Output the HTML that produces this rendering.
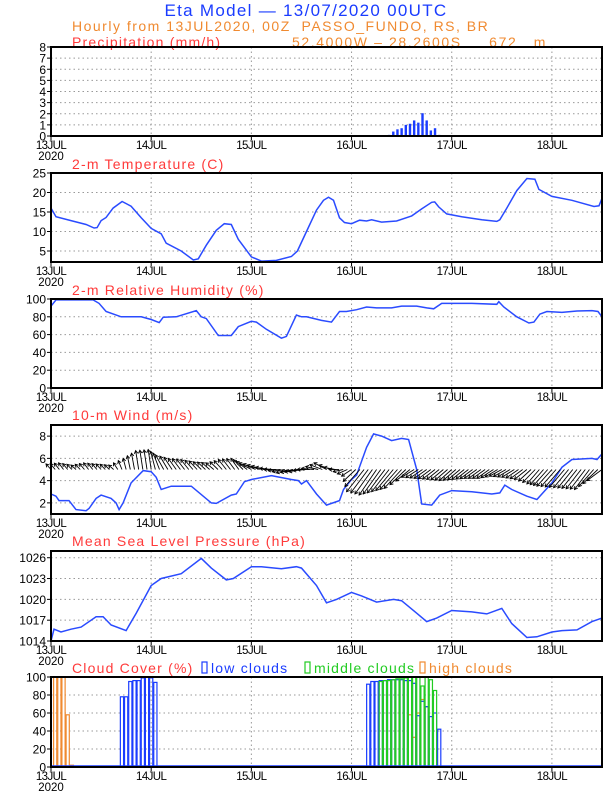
<!DOCTYPE html>
<html><head><meta charset="utf-8"><style>
html,body{margin:0;padding:0;background:#fff;}
svg{display:block;font-family:"Liberation Sans",sans-serif;}
</style></head><body>
<svg id="chart" width="612" height="792" viewBox="0 0 612 792" xmlns="http://www.w3.org/2000/svg">
<text x="306" y="16" text-anchor="middle" font-size="17" letter-spacing="1.3" fill="#1a3cff">Eta Model — 13/07/2020 00UTC</text>
<text x="72" y="31" font-size="14" letter-spacing="1.5" fill="#f08a30" xml:space="preserve">Hourly from 13JUL2020, 00Z  PASSO_FUNDO, RS, BR</text>
<text x="292" y="47" font-size="14" letter-spacing="1.6" fill="#f08a30" xml:space="preserve">52.4000W – 28.2600S     672   m</text>
</svg>
<script>
// ---------- data ----------
const dayLabels = ["13JUL","14JUL","15JUL","16JUL","17JUL","18JUL"];
const precipHours = [81,82,83,84,85,86,87,88,89,90,91,92,93];
const precipValues = [0.1,0.4,0.6,0.7,1.0,1.1,1.4,1.2,2.05,1.4,0.5,0.7,0.1];
const tempDays = [0,0.05,0.2,0.35,0.43,0.46,0.5,0.55,0.62,0.71,0.8,0.9,1.0,1.1,1.15,1.3,1.42,1.47,1.55,1.65,1.73,1.8,1.87,2.0,2.1,2.25,2.4,2.46,2.55,2.65,2.72,2.77,2.82,2.88,2.93,3.0,3.08,3.15,3.2,3.3,3.45,3.6,3.7,3.8,3.83,3.87,3.95,4.1,4.3,4.45,4.48,4.55,4.65,4.75,4.83,4.87,5.0,5.2,5.42,5.47,5.5];
const tempValues = [16,13.8,12.8,11.8,10.9,11,12.8,13.6,16,17.7,16.5,13.5,10.8,9.4,7,5,2.7,3,6.5,10.3,12,11.8,8,3.5,2.4,2.6,3.6,5,10,15.5,18,18.8,18,13.5,12.3,12,12.9,12.7,13,12.4,12.7,14,15.8,17.5,17.6,16.3,14.5,13.8,13,12.6,13,16,20.5,23.6,23.4,20.8,19,18,16.4,16.6,18.5];
const tempTicks = [5,10,15,20,25];
const rhDays = [0,0.05,0.2,0.42,0.48,0.55,0.7,0.9,1.0,1.08,1.12,1.25,1.45,1.5,1.55,1.67,1.8,1.87,2.0,2.05,2.15,2.3,2.35,2.45,2.5,2.55,2.7,2.8,2.88,2.95,3.05,3.15,3.25,3.4,3.5,3.65,3.75,3.82,3.9,4.0,4.2,4.45,4.47,4.52,4.65,4.77,4.82,4.88,4.95,5.1,5.25,5.4,5.46,5.5];
const rhValues = [92,99,99,99,95,86,80,80,77,73.5,79.5,80,87,80,78,59,59,69,75,74,66,56,58,82,80,80,76,74,86,86,88,91,90,90,92,92,90,89,95,95,95,94,97,91,80,73,74,83,86,85,86.5,87,86,80];
const rhTicks = [0,20,40,60,80,100];
const windDays = [0,0.05,0.08,0.18,0.25,0.35,0.38,0.45,0.5,0.6,0.65,0.68,0.72,0.8,0.92,1.0,1.05,1.1,1.2,1.4,1.6,1.65,1.8,1.85,1.93,2.0,2.2,2.4,2.47,2.5,2.55,2.65,2.75,2.88,2.92,3.0,3.05,3.15,3.22,3.3,3.4,3.5,3.57,3.65,3.7,3.8,3.88,4.0,4.2,4.4,4.48,4.53,4.6,4.75,4.85,5.0,5.1,5.2,5.4,5.45,5.5];
const windSpeed = [2.8,2.6,2.2,2.2,1.4,1.3,1.5,2.4,2.7,2.4,2,1.4,2,3.8,4.9,4.8,4.3,3.2,3.5,3.5,2,1.95,2.7,2.8,3.9,4.1,4.45,4.1,4,3.7,4,2.8,1.8,2.2,3.2,4.1,4.5,7,8.2,8,7.6,7.8,7.7,5,1.9,1.8,2.7,3.1,3,2.8,2.9,3.6,3.2,2.6,2.3,3.8,5.2,5.9,6,5.9,6.4];
const windTicks = [2,4,6,8];
// wind vector components, every 3 h
const windV = [0.5,0.6,0.4,0.6,0.5,0.4,1.0,1.7,1.8,1.3,1.0,0.9,0.7,0.6,0.9,1.0,0.6,0.3,0.0,-0.3,-0.2,0.1,0.6,0.0,-0.6,-2.0,-2.3,-2.0,-1.7,-0.7,-0.8,-0.9,-1.0,-0.9,-0.8,-0.8,-0.6,-0.7,-0.9,-1.3,-1.5,-1.6,-1.7,-1.8,-1.0];
const windU = [-1,-1,-1,-1,-1,-1,-0.6,-0.6,-0.6,-1.6,-1.6,-1.6,-1.6,-1.6,-1.6,-1.6,-2.5,-2.5,-2.5,-2.5,-2.5,-2.5,-2.5,-2,-2,-3.5,-3.5,-3.5,-3.5,-2.5,-2.5,-2.5,-2.5,-2.5,-2.5,-2.5,-2.5,-2.5,-2.5,-2.5,-3,-3,-3,-3,-3];
const presDays = [0,0.03,0.1,0.2,0.3,0.45,0.52,0.6,0.75,0.85,1.0,1.1,1.3,1.5,1.6,1.75,1.82,2.0,2.1,2.3,2.45,2.5,2.65,2.75,2.85,3.0,3.1,3.25,3.42,3.5,3.65,3.75,3.85,4.0,4.2,4.35,4.5,4.6,4.75,4.85,5.0,5.1,5.25,5.4,5.5];
const presValues = [1014,1015.7,1015.3,1015.7,1016,1017.5,1017.5,1016.3,1015.5,1018,1022,1023,1023.7,1025.9,1024.5,1022.8,1023,1024.7,1024.7,1024.4,1024.7,1024.5,1022,1019.5,1020,1021,1020.5,1019.6,1020,1019.8,1018,1016.8,1017.3,1018.4,1018.2,1017.9,1018.7,1016.5,1014.5,1014.6,1015.3,1015.5,1015.6,1016.8,1017.3];
const presTicks = [1014,1017,1020,1023,1026];
const lowHours = [12,13,15,17,18,19,20,21,22,23,24,25,76,77,78,79,80,81,82,83,84,85,86,87,88,89,90,91,92,93,101,102,103];
const lowValues = [1,1,1,78,78,95,96,96,99,100,99,94,92,95,95,96,96,97,97,97,97,96,96,93,57,73,67,56,60,42,1,1,1];
const midHours = [79,80,81,82,83,84,85,86,87,88,89,90,91,92];
const midValues = [95,96,96,97,98,98,99,100,100,100,90,100,97,85];
const highHours = [1,2,3,4,5,86,87,88,89,90];
const highValues = [100,100,100,58,2,58,33,60,75,67];
const cloudTicks = [0,20,40,60,80,100];
const precipTicks = [0,1,2,3,4,5,6,7,8];

// ---------- layout ----------
const svg = document.getElementById('chart');
const NS = 'http://www.w3.org/2000/svg';
const X0 = 51, X1 = 602, HMAX = 132;
function xh(h){ return X0 + (X1-X0)*h/HMAX; }
function xd(d){ return xh(d*24); }
function mk(tag, attrs, parent){
  const e = document.createElementNS(NS, tag);
  for (const k in attrs) e.setAttribute(k, attrs[k]);
  (parent||svg).appendChild(e);
  return e;
}
function panel(key, title, top, bottom, vmin, vmax, ticks, titleY){
  const g = mk('g', {});
  
  
  const y = v => bottom - (bottom-top)*(v-vmin)/(vmax-vmin);
  const t = mk('text', {x:72, y:titleY, 'font-size':14, 'letter-spacing':1.2, fill:'#ff3a3a'}, g);
  t.textContent = title;
  
  
  for (let d=1; d<=5; d++){
    const gl = mk('line', {x1:xd(d), x2:xd(d), y1:top, y2:bottom, stroke:'#999', 'stroke-dasharray':'1.5,3', 'stroke-width':1}, g);
    
    
  }
  ticks.forEach(v => {
    const yy = y(v);
    if (yy > top+1 && yy < bottom-1){
      const gl = mk('line', {x1:X0, x2:X1, y1:yy, y2:yy, stroke:'#999', 'stroke-dasharray':'1.5,3', 'stroke-width':1}, g);
      
      
    }
    const tk = mk('line', {x1:X0-4, x2:X0, y1:yy, y2:yy, stroke:'#000'}, g);
    
    
    const lb = mk('text', {x:X0-5, y:yy+4.5, 'font-size':12, 'text-anchor':'end', fill:'#000'}, g);
    lb.textContent = v;
    
    
  });
  dayLabels.forEach((s,i) => {
    const tk = mk('line', {x1:xd(i), x2:xd(i), y1:bottom, y2:bottom+4, stroke:'#000'}, g);
    
    
    const lb = mk('text', {x:xd(i), y:bottom+13, 'font-size':11.5, 'text-anchor':'middle', fill:'#000', 'letter-spacing':'-0.6'}, g);
    lb.textContent = s;
    
    
  });
  const yr = mk('text', {x:X0, y:bottom+24, 'font-size':11.5, 'text-anchor':'middle', fill:'#000'}, g);
  yr.textContent = '2020';
  
  
  const plot = mk('g', {}, g);
  
  
  const fr = mk('rect', {x:X0, y:top, width:X1-X0, height:bottom-top, fill:'none', stroke:'#000', 'stroke-width':2}, g);
  
  
  return {y, plot, top, bottom};
}
function line(p, days, vals, name){
  const pts = days.map((d,i) => xd(d).toFixed(1) + ',' + p.y(vals[i]).toFixed(1)).join(' ');
  const l = mk('polyline', {points:pts, fill:'none', stroke:'#2a4bff', 'stroke-width':1.5}, p.plot);
  
  
}

// Precip
const pP = panel('precipitation', 'Precipitation (mm/h)', 47, 136, 0, 8, precipTicks, 47);
precipHours.forEach((h,i) => {
  const b = mk('rect', {x:xh(h)-1.2, y:pP.y(precipValues[i]), width:2.4, height:pP.bottom-pP.y(precipValues[i]), fill:'#1a3cff'}, pP.plot);
  
  
});
// Temp
const pT = panel('temperature', '2-m Temperature (C)', 173, 262, 25-(262-173)/3.9, 25, tempTicks, 169);
line(pT, tempDays, tempValues, 'temperature-line');
// RH
const pR = panel('humidity', '2-m Relative Humidity (%)', 299, 388, 0, 100, rhTicks, 295);
line(pR, rhDays, rhValues, 'humidity-line');
// Wind
const pW = panel('wind', '10-m Wind (m/s)', 425, 514, 1, 9, windTicks, 420);
line(pW, windDays, windSpeed, 'wind-speed-line');
for (let h=0; h<=HMAX; h++){
  const i = Math.min(Math.floor(h/3), windV.length-2), f = (h - i*3)/3;
  const v = windV[i] + (windV[i+1]-windV[i])*f;
  const u = windU[i] + (windU[i+1]-windU[i])*f;
  const x0 = xh(h), y0 = pW.y(5), x1 = x0 + u*5, y1 = pW.y(5+v);
  const a = mk('g', {}, pW.plot);
  
  
  mk('line', {x1:x0, y1:y0, x2:x1, y2:y1, stroke:'#000', 'stroke-width':0.9}, a);
  const ang = Math.atan2(y1-y0, x1-x0), L = 3.5;
  mk('polyline', {points:`${x1+L*Math.cos(ang+2.6)},${y1+L*Math.sin(ang+2.6)} ${x1},${y1} ${x1+L*Math.cos(ang-2.6)},${y1+L*Math.sin(ang-2.6)}`, fill:'none', stroke:'#000', 'stroke-width':0.9}, a);
}
// Pressure
const pS = panel('pressure', 'Mean Sea Level Pressure (hPa)', 551, 641, 1014, 1014+90/6.94, presTicks, 546);
line(pS, presDays, presValues, 'pressure-line');
// Cloud
const pC = panel('cloud', 'Cloud Cover (%)', 677, 767, 0, 100, cloudTicks, 673);
function bars(hours, vals, color, name){
  hours.forEach((h,i) => {
    const b = mk('rect', {x:xh(h)-1.6, y:pC.y(vals[i]), width:3.2, height:pC.bottom-pC.y(vals[i]), fill:'none', stroke:color, 'stroke-width':1.2}, pC.plot);
    
    
  });
}
bars(highHours, highValues, '#f08a30', 'high-cloud-bar');
bars(lowHours, lowValues, '#1a3cff', 'low-cloud-bar');
bars(midHours, midValues, '#22cc22', 'middle-cloud-bar');
const bl = mk('line', {x1:X0, x2:X1, y1:pC.bottom-1, y2:pC.bottom-1, stroke:'#1a3cff', 'stroke-width':1.5}, pC.plot);


const legend = [['low clouds','#1a3cff',202],['middle clouds','#22cc22',305],['high clouds','#f08a30',420]];
legend.forEach(e => {
  const g = mk('g', {});
  
  
  mk('rect', {x:e[2], y:662, width:5, height:11, fill:'none', stroke:e[1], 'stroke-width':1.2}, g);
  const t = mk('text', {x:e[2]+9, y:673, 'font-size':14, 'letter-spacing':1.2, fill:e[1]}, g);
  t.textContent = e[0];
});
</script>
</body></html>
